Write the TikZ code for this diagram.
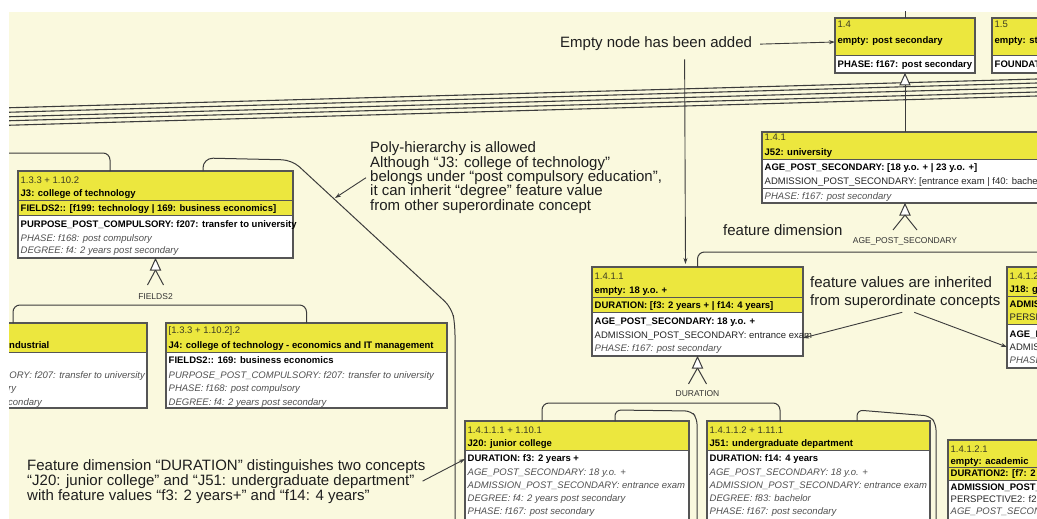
\documentclass[tikz,border=0pt]{standalone}
\usepackage{fontspec}
\setmainfont{Liberation Sans}
\usetikzlibrary{arrows.meta}
\definecolor{cream}{RGB}{250,249,222}
\definecolor{boxyellow}{RGB}{236,231,62}
\definecolor{boxborder}{RGB}{85,85,85}
\definecolor{linegray}{RGB}{60,60,60}
\definecolor{italgray}{RGB}{80,80,80}
\definecolor{idcol}{RGB}{60,60,35}
\definecolor{anntext}{RGB}{30,30,30}
\tikzset{
 cbox/.style={draw=boxborder, line width=2pt, fill=white, anchor=north west, inner sep=0pt, outer sep=0pt},
 row/.style={anchor=base west, inner sep=0pt, font=\fontsize{9.5}{11}\selectfont, text=black!85},
 brow/.style={row, font=\fontsize{9.5}{11}\selectfont\bfseries, text=black},
 irow/.style={row, font=\fontsize{9.5}{11}\selectfont\itshape, text=italgray},
 idrow/.style={row, text=idcol},
 ann/.style={anchor=base west, inner sep=0pt, font=\fontsize{15}{17}\selectfont, text=anntext},
 conn/.style={draw=linegray, line width=1pt, rounded corners=7pt},
 annarrow/.style={draw=linegray, line width=0.9pt, -{Stealth[length=6pt,width=4pt]}},
 gen/.style={draw=linegray, line width=1pt, fill=white, line join=miter},
 sep/.style={draw=boxborder, line width=0.8pt},
 forklabel/.style={font=\fontsize{8.5}{9}\selectfont, inner sep=1pt, text=black!80},
 bundle/.style={draw=linegray, line width=1.1pt}
}
\newcommand{\conceptbox}[6]{%
  \node[cbox, minimum width=#3pt, minimum height=#4pt] (#1) at #2 {};
  \fill[boxyellow] (#1.north west) rectangle ([yshift=-#5pt]#1.north east);
  \foreach \s in {#6}{\draw[sep] ([yshift=-\s pt]#1.north west) -- ([yshift=-\s pt]#1.north east);}
  \draw[boxborder, line width=2pt] (#1.north west) rectangle (#1.south east);
}
\begin{document}
\begin{tikzpicture}[x=1pt,y=-1pt]
\useasboundingbox (0,0) rectangle (1037,519);
\fill[white] (0,0) rectangle (1037,519);
\fill[cream] (9,12) rectangle (1037,519);
\begin{scope}
\clip (9,12) rectangle (1037,519);

% bundle of edges crossing the picture
\coordinate (bl1) at (0,108);   \coordinate (br1) at (1037,79);
\coordinate (bl2) at (0,112.5); \coordinate (br2) at (1037,83);
\coordinate (bl3) at (0,117);   \coordinate (br3) at (1037,87.5);
\coordinate (bl4) at (0,121);   \coordinate (br4) at (1037,92);
\coordinate (bl5) at (0,125.5); \coordinate (br5) at (1037,96);
\foreach \i in {1,...,5}{\draw[bundle] (bl\i) -- (br\i);}

% ---------------- boxes ----------------
\conceptbox{b14}{(835,18)}{140}{55}{37}{37}
\node[idrow] (b14a) at (837.5,28) {1.4};
\node[brow] (b14b) at (837.5,44) {empty: post secondary};
\node[brow] (b14c) at (837.5,67) {PHASE: f167: post secondary};

\conceptbox{b15}{(992,18)}{140}{55}{37}{37}
\node[idrow] (b15a) at (994.5,28) {1.5};
\node[brow] (b15b) at (994.5,44) {empty: st};
\node[brow] (b15c) at (994.5,67) {FOUNDATI};

\conceptbox{b141}{(762,132)}{286}{71}{27}{27,56}
\node[idrow] (b141a) at (764.5,140) {1.4.1};
\node[brow] (b141b) at (764.5,155) {J52: university};
\node[brow] (b141c) at (764.5,170) {AGE\_POST\_SECONDARY: [18 y.o. + | 23 y.o. +]};
\node[row] (b141d) at (764.5,184) {ADMISSION\_POST\_SECONDARY: [entrance exam | f40: bachelo};
\node[irow] (b141e) at (764.5,199) {PHASE: f167: post secondary};

\conceptbox{b1411}{(592,267)}{211}{89}{45}{30,45}
\node[idrow] (b1411a) at (594.5,279) {1.4.1.1};
\node[brow] (b1411b) at (594.5,293) {empty: 18 y.o. +};
\node[brow] (b1411c) at (594.5,308) {DURATION: [f3: 2 years + | f14: 4 years]};
\node[brow] (b1411d) at (594.5,324) {AGE\_POST\_SECONDARY: 18 y.o. +};
\node[row] (b1411e) at (594.5,338) {ADMISSION\_POST\_SECONDARY: entrance exam};
\node[irow] (b1411f) at (594.5,351) {PHASE: f167: post secondary};

\conceptbox{j3}{(18,171)}{275}{87}{44}{29,44}
\node[idrow] (j3a) at (20.5,183) {1.3.3 + 1.10.2};
\node[brow] (j3b) at (20.5,196) {J3: college of technology};
\node[brow] (j3c) at (20.5,211) {FIELDS2:: [f199: technology | 169: business economics]};
\node[brow] (j3d) at (20.5,227) {PURPOSE\_POST\_COMPULSORY: f207: transfer to university};
\node[irow] (j3e) at (20.5,241) {PHASE: f168: post compulsory};
\node[irow] (j3f) at (20.5,253) {DEGREE: f4: 2 years post secondary};

\conceptbox{ind}{(-134,323)}{281}{85}{29}{29}
\node[brow] (inda) at (9,348) {ndustrial};
\node[irow, anchor=base east] (indb) at (145,378) {ORY: f207: transfer to university};
\node[irow] (indc) at (8,391.5) {ry};
\node[irow] (indd) at (8,405) {condary};

\conceptbox{j4}{(166,323)}{281}{85}{29}{29}
\node[idrow] (j4a) at (168.5,333) {[1.3.3 + 1.10.2].2};
\node[brow] (j4b) at (168.5,348) {J4: college of technology - economics and IT management};
\node[brow] (j4c) at (168.5,363) {FIELDS2:: 169: business economics};
\node[irow] (j4d) at (168.5,378) {PURPOSE\_POST\_COMPULSORY: f207: transfer to university};
\node[irow] (j4e) at (168.5,391.5) {PHASE: f168: post compulsory};
\node[irow] (j4f) at (168.5,405) {DEGREE: f4: 2 years post secondary};

\conceptbox{j20}{(465,421)}{224}{104}{29}{29}
\node[idrow] (j20a) at (467.5,433) {1.4.1.1.1 + 1.10.1};
\node[brow] (j20b) at (467.5,446) {J20: junior college};
\node[brow] (j20c) at (467.5,461) {DURATION: f3: 2 years +};
\node[irow] (j20d) at (467.5,475) {AGE\_POST\_SECONDARY: 18 y.o. +};
\node[irow] (j20e) at (467.5,488) {ADMISSION\_POST\_SECONDARY: entrance exam};
\node[irow] (j20f) at (467.5,501) {DEGREE: f4: 2 years post secondary};
\node[irow] (j20g) at (467.5,514) {PHASE: f167: post secondary};

\conceptbox{j51}{(707,421)}{223}{104}{29}{29}
\node[idrow] (j51a) at (709.5,433) {1.4.1.1.2 + 1.11.1};
\node[brow] (j51b) at (709.5,446) {J51: undergraduate department};
\node[brow] (j51c) at (709.5,461) {DURATION: f14: 4 years};
\node[irow] (j51d) at (709.5,475) {AGE\_POST\_SECONDARY: 18 y.o. +};
\node[irow] (j51e) at (709.5,488) {ADMISSION\_POST\_SECONDARY: entrance exam};
\node[irow] (j51f) at (709.5,501) {DEGREE: f83: bachelor};
\node[irow] (j51g) at (709.5,514) {PHASE: f167: post secondary};

\conceptbox{j18}{(1007,267)}{120}{101}{57}{29,57}
\node[idrow] (j18a) at (1009.5,279) {1.4.1.2};
\node[brow] (j18b) at (1009.5,292) {J18: g};
\node[brow] (j18c) at (1009.5,307) {ADMIS};
\node[row] (j18d) at (1009.5,320) {PERSPE};
\node[brow] (j18e) at (1009.5,337) {AGE\_P};
\node[row] (j18f) at (1009.5,350) {ADMIS};
\node[irow] (j18g) at (1009.5,363) {PHASE};

\conceptbox{b14121}{(948,440)}{150}{90}{40}{27,40}
\node[idrow] (b14121a) at (950.5,452) {1.4.1.2.1};
\node[brow] (b14121b) at (950.5,464.5) {empty: academic};
\node[brow] (b14121c) at (950.5,476.5) {DURATION2: [f7: 2 y};
\node[brow] (b14121d) at (950.5,490) {ADMISSION\_POST\_};
\node[row] (b14121e) at (950.5,502) {PERSPECTIVE2: f25:};
\node[irow] (b14121f) at (950.5,514) {AGE\_POST\_SECON};

% ---------------- hierarchy connectors ----------------
\coordinate (topL) at (905,0);
\draw[conn] (topL) -- (b14.north);
% 1.4 -> 1.4.1
\draw[gen] ([yshift=-1pt]b14.south) -- ++(-5,11) -- ++(10,0) -- cycle;
\draw[conn] ([yshift=-12pt]b14.south) -- (b141.north);
% AGE_POST_SECONDARY fork
\draw[gen] ([yshift=-1pt]b141.south) -- ++(-5,11) -- ++(10,0) -- cycle;
\draw[conn] ([yshift=-12pt]b141.south) -- ++(-12,15);
\draw[conn] ([yshift=-12pt]b141.south) -- ++(12,15);
\node[forklabel] (lage) at (905,241) {AGE\_POST\_SECONDARY};
\coordinate (ageR) at (1045,252);
\draw[conn] (b1411.north) |- (ageR);
% DURATION fork
\draw[gen] ([yshift=-1pt]b1411.south) -- ++(-5,11) -- ++(10,0) -- cycle;
\draw[conn] ([yshift=-12pt]b1411.south) -- ++(-9,16);
\draw[conn] ([yshift=-12pt]b1411.south) -- ++(9,16);
\node[forklabel] (ldur) at (697.5,394) {DURATION};
\draw[conn] ([xshift=77pt]j20.north west) -- ++(0,-18) -| ([xshift=73pt]j51.north west);
% FIELDS2 fork
\draw[gen] ([yshift=-1pt]j3.south) -- ++(-5,11) -- ++(10,0) -- cycle;
\draw[conn] ([yshift=-12pt]j3.south) -- ++(-8,15);
\draw[conn] ([yshift=-12pt]j3.south) -- ++(8,15);
\node[forklabel] (lfld) at (155.5,297) {FIELDS2};
\draw[conn] ([xshift=147pt]ind.north west) -- ++(0,-18) -| (j4.north);
% poly-hierarchy links
\coordinate (polyL) at (0,153);
\draw[conn] (polyL) -| ([xshift=92pt]j3.north west);
\coordinate (polyB) at (455,530);
\draw[conn, rounded corners=10pt] ([xshift=185pt]j3.north west) -- ++(0,-13) -- (292,160) -- (452,308) -- (455,325) -- (polyB);
\coordinate (j20B) at (697,530);
\draw[conn, rounded corners=6pt] ([xshift=150pt]j20.north west) -- ++(0,-11) -- (691,411) -- (697,418) -- (j20B);
\coordinate (j51B) at (936,530);
\draw[conn, rounded corners=6pt] ([xshift=150pt]j51.north west) -- ++(0,-11) -- (930,416) -- (936,424) -- (j51B);

% ---------------- annotations ----------------
\node[ann] (ann1) at (560,48) {Empty node has been added};
\draw[annarrow] ([xshift=8pt]ann1.east) -- ([yshift=3.5pt]b14.west);
\draw[annarrow] ([xshift=28.5pt,yshift=-8pt]ann1.south) -- ([xshift=-12pt,yshift=3pt]b1411.north);

\begin{scope}[every node/.style={ann, font=\fontsize{15}{17}\selectfont}]
\node (ann2a) at (370,153) {Poly-hierarchy is allowed};
\node (ann2b) at (370,167.3) {Although “J3: college of technology”};
\node (ann2c) at (370,181.6) {belongs under “post compulsory education”,};
\node (ann2d) at (370,195.9) {it can inherit “degree” feature value};
\node (ann2e) at (370,210.2) {from other superordinate concept};
\node (ann3) at (723,235) {feature dimension};
\node (ann4a) at (810,287) {feature values are inherited};
\node (ann4b) at (810,305) {from superordinate concepts};
\node (ann5a) at (27,470) {Feature dimension “DURATION” distinguishes two concepts};
\node (ann5b) at (27,485) {“J20: junior college” and “J51: undergraduate department”};
\node (ann5c) at (27,500) {with feature values “f3: 2 years+” and “f14: 4 years”};
\end{scope}
\coordinate (polyT) at (335,198);
\draw[annarrow] ([xshift=-4pt]ann2c.west) -- (polyT);
\draw[annarrow] ([xshift=-3pt,yshift=-4pt]ann4b.south) -- ([yshift=-26.5pt]b1411.east);
\draw[annarrow] ([xshift=9pt,yshift=-4pt]ann4b.south) -- ([yshift=-29.5pt]j18.west);
\draw[annarrow] ([xshift=8pt]ann5b.east) -- ([yshift=14pt]j20.west);
\end{scope}
\end{tikzpicture}
\end{document}
